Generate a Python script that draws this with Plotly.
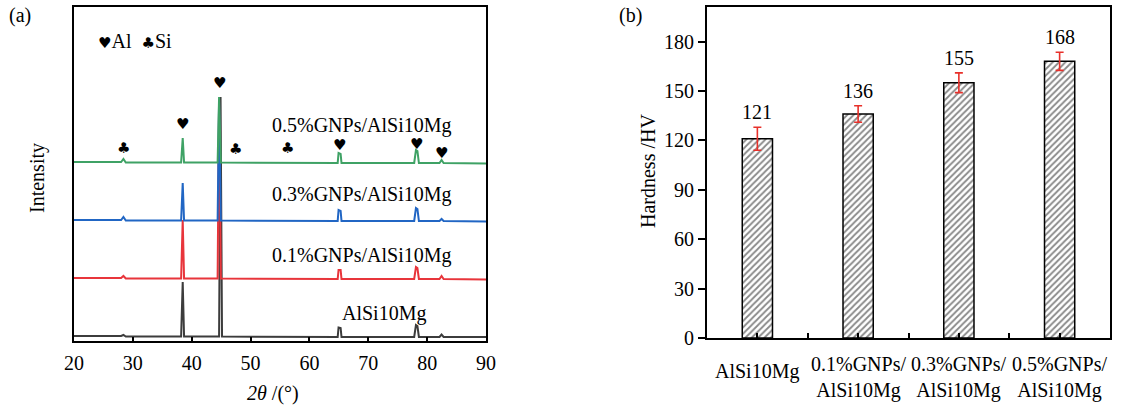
import plotly.graph_objects as go

W, H = 1136, 409
FONT = "Liberation Serif"

# ---------------- (a) XRD data ----------------
two_theta = [20, 28.0, 28.4, 28.8, 38.2, 38.47, 38.7, 44.4, 44.65, 44.95,
             64.8, 64.95, 65.3, 65.45, 77.8, 78.1, 78.35, 78.6, 82.1, 82.45, 82.8, 90]
two_theta_base = [20, 28.0, 28.4, 28.8, 38.2, 38.47, 38.7, 44.65, 44.9, 45.15,
                  64.8, 64.95, 65.3, 65.45, 77.8, 78.1, 78.35, 78.6, 82.1, 82.45, 82.8, 90]
int_base = [5, 5, 6, 4.5, 4.5, 59, 4.5, 4.5, 244, 4.5, 4, 13.5, 13, 4, 4, 16, 15, 4, 4, 6.5, 4, 4]
int_01 = [63, 63, 65, 62.5, 62.5, 121, 62.5, 62.5, 241, 62.5, 62, 71, 71, 62, 62, 74, 73, 62, 62, 65, 62, 61.5]
int_03 = [121, 121, 124, 120.5, 120.5, 158, 120.5, 120.5, 241, 120.5, 120, 131, 130, 120, 120, 133, 132, 120, 120, 122, 120, 119.5]
int_05 = [179, 179, 182, 178.5, 178.5, 203, 178.5, 178.5, 244, 178.5, 178, 188, 187, 178, 178, 191, 190, 178, 178, 181, 178, 177.5]

series_names = ["AlSi10Mg", "0.1%GNPs/AlSi10Mg", "0.3%GNPs/AlSi10Mg", "0.5%GNPs/AlSi10Mg"]
series_colors = ["#3c3c3c", "#e8353b", "#2166c4", "#3fa265"]

phase_x = [28.4, 38.47, 44.65, 47.4, 56.2, 65.1, 78.15, 82.5]
phase_y = [193, 217, 258, 192, 193, 196, 197, 188]
phase_sym = ["♣", "♥", "♥", "♣", "♣", "♥", "♥", "♥"]

xticks_a = [20, 30, 40, 50, 60, 70, 80, 90]

# ---------------- (b) Hardness data ----------------
samples = ["AlSi10Mg", "0.1%GNPs/<br>AlSi10Mg", "0.3%GNPs/<br>AlSi10Mg", "0.5%GNPs/<br>AlSi10Mg"]
hardness = [121, 136, 155, 168]
hardness_err = [7, 5, 6, 5.5]
yticks_b = [0, 30, 60, 90, 120, 150, 180]


def px(x):
    return x / W


def py(y):
    return 1 - y / H


fig = go.Figure()

xs = [two_theta_base, two_theta, two_theta, two_theta]
ys = [int_base, int_01, int_03, int_05]
for name, xv, yv, c in zip(series_names, xs, ys, series_colors):
    fig.add_trace(go.Scatter(x=xv, y=yv, mode="lines", name=name,
                             line=dict(color=c, width=2), xaxis="x", yaxis="y",
                             showlegend=False))

pos = list(range(len(samples)))
fig.add_trace(go.Bar(
    x=pos, y=hardness, width=0.3, xaxis="x2", yaxis="y2", showlegend=False,
    marker=dict(color="white", line=dict(color="black", width=1.5),
                pattern=dict(shape="/", fgcolor="#111111", bgcolor="white",
                             size=4.5, solidity=0.4)),
    error_y=dict(type="data", array=hardness_err, color="#e8302a",
                 thickness=1.6, width=4),
))

TF = dict(family=FONT, size=20, color="black")
ann = []
# phase markers
for x, y, s in zip(phase_x, phase_y, phase_sym):
    ann.append(dict(x=x, y=y, xref="x", yref="y", text=s, showarrow=False,
                    xanchor="center", yanchor="middle",
                    font=dict(family="DejaVu Sans", size=15, color="black")))
# legend of phases
ann.append(dict(x=px(96), y=py(41), xref="paper", yref="paper", xanchor="left",
                yanchor="middle",
                text="<span style='font-family:DejaVu Sans;font-size:15px'>♥</span>Al  "
                     "<span style='font-family:DejaVu Sans;font-size:15px'>♣</span>Si",
                showarrow=False, font=TF))
# series labels
lab_pos = [(384, 313), (361, 255), (361, 195), (361, 125)]
for name, (lx, ly) in zip(series_names, lab_pos):
    ann.append(dict(x=px(lx), y=py(ly), xref="paper", yref="paper", text=name,
                    xanchor="center", yanchor="middle", showarrow=False, font=TF))
# value labels
for i, (v, e) in enumerate(zip(hardness, hardness_err)):
    ann.append(dict(x=i, y=v + e, xref="x2", yref="y2", text=str(v), showarrow=False,
                    xanchor="center", yanchor="bottom", yshift=2, font=TF))
# category labels
for i, s in enumerate(samples):
    ann.append(dict(x=i, y=py(338), xref="x2", yref="paper", text=s, showarrow=False,
                    xanchor="center", yanchor="top", yshift=-20 if i == 0 else -13, font=TF))
# axis titles & panel letters
def lab(x, y, text, angle=0):
    return dict(x=px(x), y=py(y), xref="paper", yref="paper", text=text, textangle=angle,
                xanchor="center", yanchor="middle", showarrow=False, font=TF)


ann += [
    lab(37, 178, "Intensity", -90),
    lab(273, 393, "<i>2θ</i> /(°)"),
    lab(648, 171, "Hardness /HV", -90),
    lab(20, 16, "(a)"),
    lab(630, 16, "(b)"),
]

axis_common = dict(showline=True, linecolor="black", linewidth=2, mirror=True,
                   showgrid=False, zeroline=False, automargin=False)

fig.update_layout(
    width=W, height=H, margin=dict(l=0, r=0, t=0, b=0, pad=0, autoexpand=False),
    paper_bgcolor="white", plot_bgcolor="white",
    font=dict(family=FONT, size=20, color="black"),
    xaxis=dict(domain=[px(74), px(486)], range=[20, 90], tickvals=xticks_a,
               ticks="inside", ticklen=4, tickwidth=2, tickcolor="black",
               ticklabelstandoff=3, anchor="y", **axis_common),
    yaxis=dict(domain=[py(341), py(7)], range=[0, 334], showticklabels=False,
               ticks="", anchor="x", **axis_common),
    xaxis2=dict(domain=[px(707), px(1110)], range=[-0.5, 3.5],
                tickvals=[0, 0.5, 1, 1.5, 2, 2.5, 3], ticktext=[""] * 7,
                ticks="inside", ticklen=5, tickwidth=2, tickcolor="black",
                anchor="y2", **axis_common),
    yaxis2=dict(domain=[py(338), py(7)], range=[0, 201], tickvals=yticks_b,
                ticks="outside", ticklen=7, tickwidth=1.5, tickcolor="black",
                anchor="x2", **axis_common),
    annotations=ann,
)

fig.write_html("out.html")
